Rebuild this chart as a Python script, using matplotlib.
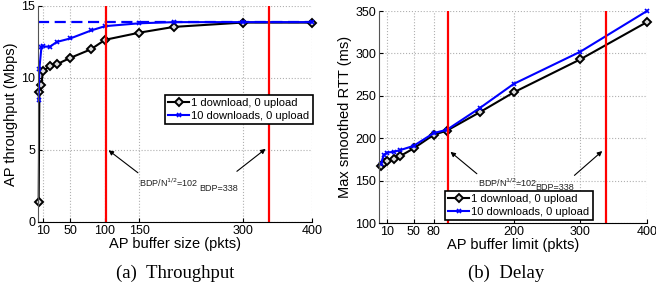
import matplotlib
matplotlib.use("Agg")
import matplotlib.pyplot as plt

# ── Data ─────────────────────────────────────────────────────────────────────
labels = ["1 download, 0 upload", "10 downloads, 0 upload"]

tput_x = [4, 5, 8, 10, 20, 30, 50, 80, 100, 150, 200, 300, 400]
tput_one = [1.4, 9.0, 9.5, 10.5, 10.8, 10.95, 11.4, 12.0, 12.65, 13.15, 13.55, 13.85, 13.85]
tput_ten = [8.5, 10.65, 12.16, 12.2, 12.16, 12.5, 12.75, 13.3, 13.6, 13.8, 13.88, 13.88, 13.88]
tput_cap = 13.9

rtt_x = [1, 5, 10, 20, 30, 50, 80, 100, 150, 200, 300, 400]
rtt_one = [167, 171, 173, 176, 179, 188, 204, 209, 231, 254, 293, 337]
rtt_ten = [170, 180, 183, 184, 186, 191, 206, 210, 236, 264, 302, 350]

bdp_sqrt = 102
bdp = 338

tput_xticks = [10, 50, 100, 150, 300, 400]
rtt_xticks = [10, 50, 80, 200, 300, 400]

plt.rcParams["font.family"] = ["Liberation Sans", "DejaVu Sans"]

W, H = 656, 292
fig = plt.figure(figsize=(W / 100, H / 100), dpi=100)


def px_axes(l, t, r, b):
    return fig.add_axes([l / W, 1 - b / H, (r - l) / W, (b - t) / H])


def style(ax):
    for s in ["top", "right"]:
        ax.spines[s].set_visible(False)
    ax.spines["left"].set_color("#555555")
    ax.grid(True, linestyle=":", color="#b0b0b0", linewidth=0.8)
    ax.tick_params(direction="in", length=3, labelsize=9, pad=2)
    ax.set_axisbelow(True)


def draw_series(ax, x, one, ten):
    ax.plot(x, one, color="black", marker="D", markersize=4,
            markerfacecolor="#dddddd", markeredgecolor="black", markeredgewidth=1.4,
            linewidth=1.5, label=labels[0], clip_on=False)
    ax.plot(x, ten, color="blue", marker="x", markersize=3,
            markeredgewidth=1.2, linewidth=1.5, label=labels[1], clip_on=False)


def add_legend(ax, anchor):
    leg = ax.legend(loc="upper left", bbox_to_anchor=anchor,
                    fontsize=8, frameon=True, fancybox=False, edgecolor="black",
                    borderpad=0.3, handlelength=1.9, handletextpad=0.15,
                    labelspacing=0.25, borderaxespad=0, framealpha=1)
    leg.get_frame().set_linewidth(1.2)


arrow = dict(arrowstyle="-|>", color="black", lw=0.8, mutation_scale=7)

# ── (a) Throughput ───────────────────────────────────────────────────────────
ax1 = px_axes(38, 6, 312, 222)
style(ax1)
ax1.axhline(tput_cap, color="blue", linestyle="--", linewidth=1.6, dashes=(5, 2.5))
draw_series(ax1, tput_x, tput_one, tput_ten)
ax1.axvline(bdp_sqrt, color="red", linewidth=1.6)
ax1.axvline(bdp, color="red", linewidth=1.6)
ax1.set_xlim(3, 400)
ax1.set_ylim(0, 15)
ax1.set_xticks(tput_xticks)
ax1.set_yticks([0, 5, 10, 15])
ax1.set_xlabel("AP buffer size (pkts)", fontsize=10.5, labelpad=0)
ax1.set_ylabel("AP throughput (Mbps)", fontsize=10.5, labelpad=2)
ax1.annotate("", xy=(bdp_sqrt, 5.1), xytext=(151, 3.3), arrowprops=arrow)
ax1.annotate("", xy=(336, 5.2), xytext=(288, 3.4), arrowprops=arrow)
ax1.text(149, 2.4, r"BDP/N$^{1/2}$=102", fontsize=6.5, color="#222222")
ax1.text(236, 2.15, "BDP=338", fontsize=6.5, color="#222222")
add_legend(ax1, ((165 - 38) / 274, 1 - (95 - 6) / 216))

# ── (b) Delay ────────────────────────────────────────────────────────────────
ax2 = px_axes(379, 11, 647, 223)
style(ax2)
draw_series(ax2, rtt_x, rtt_one, rtt_ten)
ax2.axvline(bdp_sqrt, color="red", linewidth=1.6)
ax2.axvline(bdp, color="red", linewidth=1.6)
ax2.set_xlim(-2, 400)
ax2.set_ylim(100, 350)
ax2.set_xticks(rtt_xticks)
ax2.set_yticks([100, 150, 200, 250, 300, 350])
ax2.set_xlabel("AP buffer limit (pkts)", fontsize=10.5, labelpad=0)
ax2.set_ylabel("Max smoothed RTT (ms)", fontsize=10.5, labelpad=2)
ax2.annotate("", xy=(bdp_sqrt, 186), xytext=(148, 156), arrowprops=arrow)
ax2.annotate("", xy=(336, 187), xytext=(288, 154), arrowprops=arrow)
ax2.text(147, 142, r"BDP/N$^{1/2}$=102", fontsize=6.5, color="#222222")
ax2.text(233, 139, "BDP=338", fontsize=6.5, color="#222222")
add_legend(ax2, ((445 - 379) / 268, 1 - (191 - 11) / 212))

# ── Captions ─────────────────────────────────────────────────────────────────
fig.text(175 / W, 1 - 273 / H, "(a)  Throughput", ha="center", va="center",
         fontsize=13.5, family="Liberation Serif")
fig.text(506 / W, 1 - 273 / H, "(b)  Delay", ha="center", va="center",
         fontsize=13.5, family="Liberation Serif")

fig.savefig("out.png", dpi=100)
